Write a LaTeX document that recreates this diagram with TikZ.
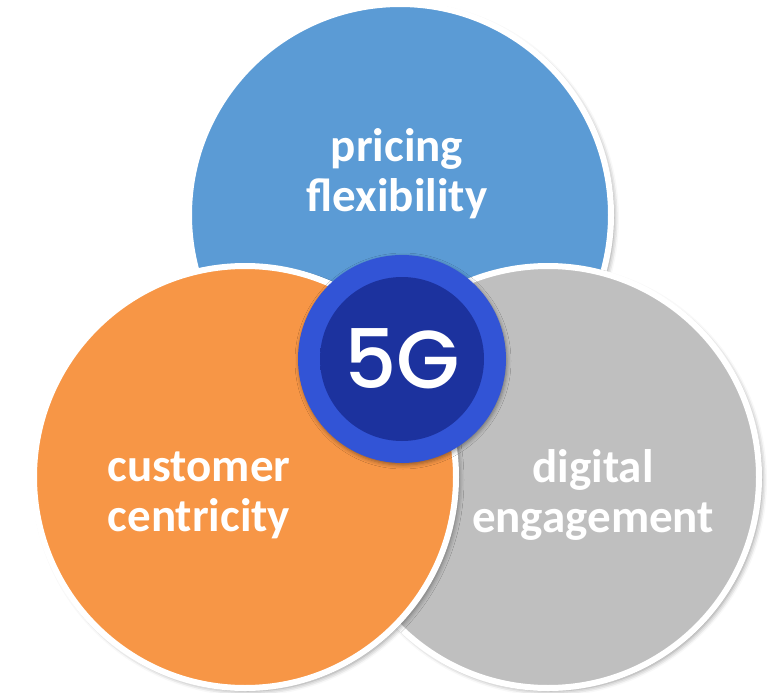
\documentclass[tikz,border=0pt]{standalone}
\usepackage{fontspec}
\setmainfont{Carlito}
\newfontfamily\fivegfont{Poppins Medium}
\usetikzlibrary{shadows.blur}

\definecolor{pricingblue}{HTML}{5B9BD5}
\definecolor{customerorange}{HTML}{F79646}
\definecolor{digitalgray}{HTML}{BFBFBF}
\definecolor{fivegring}{RGB}{50,84,214}
\definecolor{fiveginner}{RGB}{28,50,158}
\definecolor{fivegedge}{RGB}{20,38,125}

% dark disc that deepens towards its rim
\pgfdeclareradialshading{fivegdisc}{\pgfpoint{0bp}{0bp}}{%
  color(0bp)=(fiveginner); color(42bp)=(fiveginner); color(50bp)=(fivegedge)}

\begin{document}
\begin{tikzpicture}[x=1pt,y=-1pt,
  bubble/.style={circle, draw=white, line width=6pt, minimum size=422pt,
    inner sep=0pt,
    blur shadow={shadow xshift=3pt, shadow yshift=-3pt,
      shadow blur radius=5pt, shadow opacity=45}},
  bubbletext/.style={text=white, align=center,
    font=\bfseries\fontsize{47}{50}\selectfont}]

\useasboundingbox (0,0) rectangle (774,693);

% the three overlapping bubbles
\node[bubble, fill=pricingblue]    (pricing)  at (400,215) {};
\node[bubble, fill=digitalgray]    (digital)  at (548,477) {};
\node[bubble, fill=customerorange] (customer) at (245,477) {};

\node[bubbletext] (pricingtext)  at (397,174) {pricing\\flexibility};
\node[bubbletext] (customertext) at (199,495) {customer\\centricity};
\node[bubbletext] (digitaltext)  at (593,495) {digital\\engagement};

% 5G badge in the middle
\node[circle, fill=fivegring, minimum size=208pt, inner sep=0pt,
  blur shadow={shadow xshift=1pt, shadow yshift=-2pt,
    shadow blur radius=4pt, shadow opacity=40}] (badge) at (402,359) {};
\node[circle, shading=fivegdisc, minimum size=164pt, inner sep=0pt,
  text=white, font=\fivegfont\fontsize{82}{82}\selectfont]
  (core) at (badge.center) {5G};

\end{tikzpicture}
\end{document}
